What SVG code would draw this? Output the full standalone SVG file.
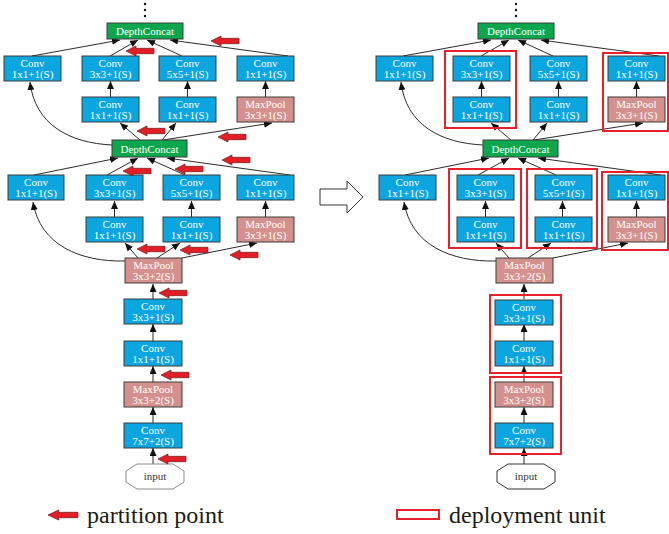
<svg xmlns="http://www.w3.org/2000/svg" xmlns:xlink="http://www.w3.org/1999/xlink" width="669" height="534" viewBox="0 0 669 534">
<style>
.conv{fill:#0BA5DF;stroke:#3d3d3d;stroke-width:1}
.pool{fill:#D4908C;stroke:#3d3d3d;stroke-width:1}
.dc{fill:#0CA74C;stroke:#3d3d3d;stroke-width:1}
.t{font-family:"Liberation Serif","Times New Roman",serif;font-size:11px;fill:#ffffff;text-anchor:middle}
.ti{font-family:"Liberation Serif","Times New Roman",serif;font-size:11px;fill:#333333;text-anchor:middle}
.inp{fill:#ffffff;stroke:#8a8a8a;stroke-width:1}
.edge{fill:none;stroke:#2b2b2b;stroke-width:1;marker-end:url(#ah)}
.unit{fill:none;stroke:#E8202A;stroke-width:2}
.pp{fill:#E41E26;stroke:#6b1a1a;stroke-width:0.7}
.leg{font-family:"Liberation Serif","Times New Roman",serif;font-size:24px;fill:#1a1a1a}
.dot{fill:#111111}
</style>
<defs>
<marker id="ah" markerUnits="userSpaceOnUse" markerWidth="8" markerHeight="7" refX="8" refY="3.5" orient="auto">
<path d="M0,0 L8,3.5 L0,7 Z" fill="#111111"/>
</marker>
<path id="pa" d="M0,0 L10,-5 L10,-2.7 L28,-2.7 L28,2.7 L10,2.7 L10,5 Z"/>
</defs>
<rect width="669" height="534" fill="#ffffff"/>

<!-- LEFT: connectors -->
<g id="connectors-left">
<path class="edge" d="M32,56 L120,40"/>
<path class="edge" d="M110,56 L138,40"/>
<path class="edge" d="M182,56 L147,40"/>
<path class="edge" d="M288,56 L170,40"/>
<path class="edge" d="M110.5,97 L110.5,81"/>
<path class="edge" d="M187.5,97 L187.5,81"/>
<path class="edge" d="M265.5,97 L265.5,81"/>
<path class="edge" d="M112,145 C70,143 35,125 30,82"/>
<path class="edge" d="M140,140 L120,123"/>
<path class="edge" d="M162,140 L176,123"/>
<path class="edge" d="M163,140 L272,123"/>
<path class="edge" d="M34,175 L118,158"/>
<path class="edge" d="M107,175 L138,158"/>
<path class="edge" d="M185,175 L147,158"/>
<path class="edge" d="M290,175 L167,158"/>
<path class="edge" d="M114.5,217 L114.5,201"/>
<path class="edge" d="M191.5,217 L191.5,201"/>
<path class="edge" d="M265.5,217 L265.5,201"/>
<path class="edge" d="M125,261 C80,262 40,245 33,202"/>
<path class="edge" d="M138,258 L125,243"/>
<path class="edge" d="M157,258 L180,243"/>
<path class="edge" d="M182,258 L257,243"/>
<path class="edge" d="M153,299 L153,284"/>
<path class="edge" d="M153,341 L153,324"/>
<path class="edge" d="M153,382 L153,366"/>
<path class="edge" d="M153,423 L153,407"/>
<path class="edge" d="M153,464 L153,448"/>
</g>
<g id="dots-left">
<circle class="dot" cx="145" cy="4" r="1.2"/><circle class="dot" cx="145" cy="10" r="1.2"/><circle class="dot" cx="145" cy="16" r="1.2"/>
</g>

<!-- LEFT: nodes -->
<g id="l-dc-top"><rect class="dc" x="107" y="23" width="76" height="16"/><text class="t" x="145" y="35">DepthConcat</text></g>
<g id="l-u-c1"><rect class="conv" x="4" y="56" width="57" height="25"/><text class="t" x="32.5" y="66.5">Conv</text><text class="t" x="32.5" y="78">1x1+1(S)</text></g>
<g id="l-u-c3"><rect class="conv" x="82" y="56" width="57" height="25"/><text class="t" x="110.5" y="66.5">Conv</text><text class="t" x="110.5" y="78">3x3+1(S)</text></g>
<g id="l-u-c5"><rect class="conv" x="159" y="56" width="57" height="25"/><text class="t" x="187.5" y="66.5">Conv</text><text class="t" x="187.5" y="78">5x5+1(S)</text></g>
<g id="l-u-c1b"><rect class="conv" x="237" y="56" width="57" height="25"/><text class="t" x="265.5" y="66.5">Conv</text><text class="t" x="265.5" y="78">1x1+1(S)</text></g>
<g id="l-u-r3"><rect class="conv" x="82" y="97" width="57" height="25"/><text class="t" x="110.5" y="107.5">Conv</text><text class="t" x="110.5" y="119">1x1+1(S)</text></g>
<g id="l-u-r5"><rect class="conv" x="159" y="97" width="57" height="25"/><text class="t" x="187.5" y="107.5">Conv</text><text class="t" x="187.5" y="119">1x1+1(S)</text></g>
<g id="l-u-mp"><rect class="pool" x="237" y="97" width="57" height="25"/><text class="t" x="265.5" y="107.5">MaxPool</text><text class="t" x="265.5" y="119">3x3+1(S)</text></g>
<g id="l-dc-mid"><rect class="dc" x="112" y="140" width="75" height="17"/><text class="t" x="149.5" y="152.5">DepthConcat</text></g>
<g id="l-l-c1"><rect class="conv" x="8" y="175" width="56" height="25"/><text class="t" x="36" y="185.5">Conv</text><text class="t" x="36" y="197">1x1+1(S)</text></g>
<g id="l-l-c3"><rect class="conv" x="86" y="175" width="57" height="25"/><text class="t" x="114.5" y="185.5">Conv</text><text class="t" x="114.5" y="197">3x3+1(S)</text></g>
<g id="l-l-c5"><rect class="conv" x="163" y="175" width="57" height="25"/><text class="t" x="191.5" y="185.5">Conv</text><text class="t" x="191.5" y="197">5x5+1(S)</text></g>
<g id="l-l-c1b"><rect class="conv" x="237" y="175" width="57" height="25"/><text class="t" x="265.5" y="185.5">Conv</text><text class="t" x="265.5" y="197">1x1+1(S)</text></g>
<g id="l-l-r3"><rect class="conv" x="86" y="217" width="57" height="25"/><text class="t" x="114.5" y="227.5">Conv</text><text class="t" x="114.5" y="239">1x1+1(S)</text></g>
<g id="l-l-r5"><rect class="conv" x="163" y="217" width="57" height="25"/><text class="t" x="191.5" y="227.5">Conv</text><text class="t" x="191.5" y="239">1x1+1(S)</text></g>
<g id="l-l-mp"><rect class="pool" x="237" y="217" width="57" height="25"/><text class="t" x="265.5" y="227.5">MaxPool</text><text class="t" x="265.5" y="239">3x3+1(S)</text></g>
<g id="l-mp2"><rect class="pool" x="125" y="258" width="57" height="25"/><text class="t" x="153.5" y="268.5">MaxPool</text><text class="t" x="153.5" y="280">3x3+2(S)</text></g>
<g id="l-c3"><rect class="conv" x="124" y="299" width="58" height="25"/><text class="t" x="153" y="309.5">Conv</text><text class="t" x="153" y="321">3x3+1(S)</text></g>
<g id="l-c1"><rect class="conv" x="124" y="341" width="58" height="25"/><text class="t" x="153" y="351.5">Conv</text><text class="t" x="153" y="363">1x1+1(S)</text></g>
<g id="l-mp1"><rect class="pool" x="124" y="382" width="58" height="25"/><text class="t" x="153" y="392.5">MaxPool</text><text class="t" x="153" y="404">3x3+2(S)</text></g>
<g id="l-c7"><rect class="conv" x="124" y="423" width="58" height="25"/><text class="t" x="153" y="433.5">Conv</text><text class="t" x="153" y="445">7x7+2(S)</text></g>
<g id="l-input"><polygon class="inp" points="137,464 173,464 184,471 184,482 173,489 137,489 126,482 126,471"/><text class="ti" x="155" y="480">input</text></g>

<!-- LEFT: partition points -->
<g id="partition-points">
<use href="#pa" class="pp" x="211" y="41"/>
<use href="#pa" class="pp" x="126" y="51"/>
<use href="#pa" class="pp" x="137" y="131"/>
<use href="#pa" class="pp" x="218" y="137"/>
<use href="#pa" class="pp" x="222" y="160"/>
<use href="#pa" class="pp" x="123" y="171"/>
<use href="#pa" class="pp" x="175" y="169"/>
<use href="#pa" class="pp" x="137" y="249"/>
<use href="#pa" class="pp" x="180" y="250"/>
<use href="#pa" class="pp" x="230" y="255"/>
<use href="#pa" class="pp" x="159" y="293"/>
<use href="#pa" class="pp" x="161" y="375"/>
<use href="#pa" class="pp" x="158" y="459"/>
</g>

<!-- middle open arrow -->
<g id="transform-arrow"><polygon points="320,189 347,189 347,181 363,197 347,213 347,205 320,205" fill="#ffffff" stroke="#333333" stroke-width="1"/></g>

<!-- RIGHT half -->
<g id="right" transform="translate(371,0)">
<g id="connectors-right">
<path class="edge" d="M32,56 L120,40"/>
<path class="edge" d="M110,56 L138,40"/>
<path class="edge" d="M182,56 L147,40"/>
<path class="edge" d="M288,56 L170,40"/>
<path class="edge" d="M110.5,97 L110.5,81"/>
<path class="edge" d="M187.5,97 L187.5,81"/>
<path class="edge" d="M265.5,97 L265.5,81"/>
<path class="edge" d="M112,145 C70,143 35,125 30,82"/>
<path class="edge" d="M140,140 L120,123"/>
<path class="edge" d="M162,140 L176,123"/>
<path class="edge" d="M163,140 L272,123"/>
<path class="edge" d="M34,175 L118,158"/>
<path class="edge" d="M107,175 L138,158"/>
<path class="edge" d="M185,175 L147,158"/>
<path class="edge" d="M290,175 L167,158"/>
<path class="edge" d="M114.5,217 L114.5,201"/>
<path class="edge" d="M191.5,217 L191.5,201"/>
<path class="edge" d="M265.5,217 L265.5,201"/>
<path class="edge" d="M125,261 C80,262 40,245 33,202"/>
<path class="edge" d="M138,258 L125,243"/>
<path class="edge" d="M157,258 L180,243"/>
<path class="edge" d="M182,258 L257,243"/>
<path class="edge" d="M153,299 L153,284"/>
<path class="edge" d="M153,341 L153,324"/>
<path class="edge" d="M153,382 L153,366"/>
<path class="edge" d="M153,423 L153,407"/>
<path class="edge" d="M153,464 L153,448"/>
</g>
<g id="dots-right">
<circle class="dot" cx="145" cy="4" r="1.2"/><circle class="dot" cx="145" cy="10" r="1.2"/><circle class="dot" cx="145" cy="16" r="1.2"/>
</g>
<g id="r-dc-top"><rect class="dc" x="107" y="23" width="76" height="16"/><text class="t" x="145" y="35">DepthConcat</text></g>
<g id="r-u-c1"><rect class="conv" x="5" y="56" width="57" height="25"/><text class="t" x="33.5" y="66.5">Conv</text><text class="t" x="33.5" y="78">1x1+1(S)</text></g>
<g id="r-u-c3"><rect class="conv" x="82" y="56" width="57" height="25"/><text class="t" x="110.5" y="66.5">Conv</text><text class="t" x="110.5" y="78">3x3+1(S)</text></g>
<g id="r-u-c5"><rect class="conv" x="159" y="56" width="57" height="25"/><text class="t" x="187.5" y="66.5">Conv</text><text class="t" x="187.5" y="78">5x5+1(S)</text></g>
<g id="r-u-c1b"><rect class="conv" x="237" y="56" width="57" height="25"/><text class="t" x="265.5" y="66.5">Conv</text><text class="t" x="265.5" y="78">1x1+1(S)</text></g>
<g id="r-u-r3"><rect class="conv" x="82" y="97" width="57" height="25"/><text class="t" x="110.5" y="107.5">Conv</text><text class="t" x="110.5" y="119">1x1+1(S)</text></g>
<g id="r-u-r5"><rect class="conv" x="159" y="97" width="57" height="25"/><text class="t" x="187.5" y="107.5">Conv</text><text class="t" x="187.5" y="119">1x1+1(S)</text></g>
<g id="r-u-mp"><rect class="pool" x="237" y="97" width="57" height="25"/><text class="t" x="265.5" y="107.5">MaxPool</text><text class="t" x="265.5" y="119">3x3+1(S)</text></g>
<g id="r-dc-mid"><rect class="dc" x="112" y="140" width="75" height="17"/><text class="t" x="149.5" y="152.5">DepthConcat</text></g>
<g id="r-l-c1"><rect class="conv" x="8" y="175" width="57" height="25"/><text class="t" x="36.5" y="185.5">Conv</text><text class="t" x="36.5" y="197">1x1+1(S)</text></g>
<g id="r-l-c3"><rect class="conv" x="86" y="175" width="57" height="25"/><text class="t" x="114.5" y="185.5">Conv</text><text class="t" x="114.5" y="197">3x3+1(S)</text></g>
<g id="r-l-c5"><rect class="conv" x="164" y="175" width="57" height="25"/><text class="t" x="192.5" y="185.5">Conv</text><text class="t" x="192.5" y="197">5x5+1(S)</text></g>
<g id="r-l-c1b"><rect class="conv" x="237" y="175" width="57" height="25"/><text class="t" x="265.5" y="185.5">Conv</text><text class="t" x="265.5" y="197">1x1+1(S)</text></g>
<g id="r-l-r3"><rect class="conv" x="86" y="217" width="57" height="25"/><text class="t" x="114.5" y="227.5">Conv</text><text class="t" x="114.5" y="239">1x1+1(S)</text></g>
<g id="r-l-r5"><rect class="conv" x="164" y="217" width="57" height="25"/><text class="t" x="192.5" y="227.5">Conv</text><text class="t" x="192.5" y="239">1x1+1(S)</text></g>
<g id="r-l-mp"><rect class="pool" x="237" y="217" width="57" height="25"/><text class="t" x="265.5" y="227.5">MaxPool</text><text class="t" x="265.5" y="239">3x3+1(S)</text></g>
<g id="r-mp2"><rect class="pool" x="125" y="258" width="57" height="25"/><text class="t" x="153.5" y="268.5">MaxPool</text><text class="t" x="153.5" y="280">3x3+2(S)</text></g>
<g id="r-c3"><rect class="conv" x="124" y="300" width="58" height="25"/><text class="t" x="153" y="310.5">Conv</text><text class="t" x="153" y="322">3x3+1(S)</text></g>
<g id="r-c1"><rect class="conv" x="124" y="341" width="58" height="25"/><text class="t" x="153" y="351.5">Conv</text><text class="t" x="153" y="363">1x1+1(S)</text></g>
<g id="r-mp1"><rect class="pool" x="124" y="382" width="58" height="25"/><text class="t" x="153" y="392.5">MaxPool</text><text class="t" x="153" y="404">3x3+2(S)</text></g>
<g id="r-c7"><rect class="conv" x="124" y="423" width="58" height="25"/><text class="t" x="153" y="433.5">Conv</text><text class="t" x="153" y="445">7x7+2(S)</text></g>
<g id="r-input"><polygon class="inp" points="137,464 173,464 184,471 184,482 173,489 137,489 126,482 126,471" style="stroke:#333333"/><text class="ti" x="155" y="480">input</text></g>
</g>

<!-- deployment units -->
<g id="deployment-units">
<rect class="unit" x="445" y="51" width="71" height="77"/>
<rect class="unit" x="603" y="53" width="65" height="78"/>
<rect class="unit" x="449" y="169" width="72" height="79"/>
<rect class="unit" x="527" y="169" width="70" height="79"/>
<rect class="unit" x="602" y="172" width="66" height="78"/>
<rect class="unit" x="490" y="295" width="71" height="78"/>
<rect class="unit" x="490" y="377" width="71" height="77"/>
</g>

<!-- legend -->
<g id="legend">
<use href="#pa" class="pp" x="48" y="515" transform="translate(48,515) scale(1.07,1) translate(-48,-515)"/>
<text class="leg" x="87" y="523">partition point</text>
<rect class="unit" x="397" y="510" width="42" height="9"/>
<text class="leg" x="449" y="523">deployment unit</text>
</g>
</svg>
